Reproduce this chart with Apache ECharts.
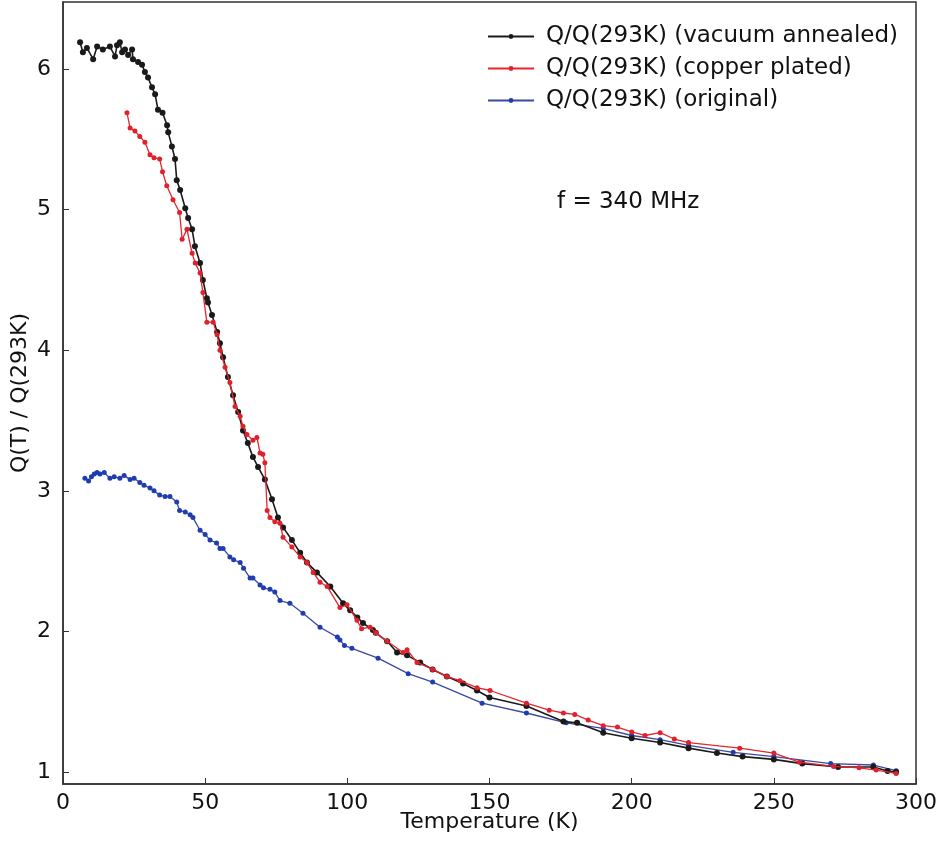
<!DOCTYPE html>
<html>
<head>
<meta charset="utf-8">
<script src="https://cdn.jsdelivr.net/npm/echarts@6/dist/echarts.min.js"></script>
<style>html,body{margin:0;padding:0;background:#fff}#c{width:937px;height:842px}</style>
</head>
<body>
<div id="c"></div>
<script>
const annealedName = 'Q/Q(293K) (vacuum annealed)';
const copperName = 'Q/Q(293K) (copper plated)';
const originalName = 'Q/Q(293K) (original)';
const xTicks = [0, 50, 100, 150, 200, 250, 300];
const yTicks = [1, 2, 3, 4, 5, 6];

const annealed = [[6,6.19],[7,6.12],[8.4,6.15],[10.6,6.07],[12,6.16],[14,6.14],[16.5,6.16],[18.3,6.09],[19,6.17],[20,6.19],[20.8,6.12],[21.8,6.14],[22.9,6.10],[24.3,6.14],[24.6,6.07],[26.4,6.05],[27.8,6.03],[28.8,5.98],[29.9,5.94],[31.3,5.87],[32.4,5.82],[33.4,5.71],[35,5.69],[36.6,5.60],[37,5.55],[38.3,5.45],[39.4,5.36],[40,5.21],[41.2,5.14],[43,5.01],[44,4.94],[45.4,4.86],[46.4,4.74],[48.2,4.62],[49.2,4.50],[50.6,4.37],[51,4.34],[52.4,4.25],[54.2,4.13],[55.2,4.05],[56.3,3.95],[58,3.81],[59.8,3.68],[61.6,3.56],[63.3,3.43],[65,3.34],[66.8,3.24],[68.6,3.17],[71,3.08],[73.5,2.94],[75.6,2.81],[77.4,2.74],[80.5,2.65],[83.4,2.56],[85.8,2.49],[89.3,2.42],[94,2.32],[98.5,2.20],[101,2.15],[103.5,2.10],[105.5,2.06],[109,2.01],[110,1.99],[114,1.93],[117.5,1.85],[121,1.83],[125.6,1.78],[130,1.73],[135,1.68],[140.7,1.63],[145.6,1.58],[150,1.53],[163,1.47],[176,1.36],[180.8,1.35],[190,1.28],[200,1.24],[210,1.21],[220,1.17],[230,1.135],[239,1.11],[250,1.09],[260,1.06],[272.6,1.036],[285,1.036],[290,1.007],[293,1.0]];

const copper = [[22.5,5.69],[23.6,5.58],[25.3,5.56],[27,5.52],[28.8,5.48],[30.6,5.39],[32,5.37],[34,5.36],[35,5.27],[36.5,5.17],[38.7,5.07],[41,4.98],[41.9,4.79],[43.6,4.86],[45.4,4.69],[46.5,4.62],[48.2,4.55],[49.2,4.41],[50.6,4.20],[52.8,4.20],[54.2,4.11],[55.2,4.0],[57,3.88],[58.7,3.77],[60.5,3.60],[62.3,3.53],[63.3,3.46],[64.7,3.40],[66.8,3.36],[68.2,3.38],[69.3,3.27],[70.3,3.26],[71,3.2],[71.8,2.86],[72.8,2.81],[74.5,2.78],[76.3,2.77],[77.4,2.67],[80.5,2.60],[83.4,2.53],[85.8,2.49],[88,2.42],[90.4,2.35],[92.9,2.32],[97.4,2.17],[99.9,2.19],[103.4,2.08],[105,2.02],[108,2.03],[110,1.99],[114,1.93],[119.6,1.85],[121,1.87],[124.5,1.78],[130,1.73],[135,1.68],[139.6,1.65],[145.6,1.60],[150.2,1.58],[163,1.49],[171,1.44],[176,1.42],[180,1.41],[184.7,1.37],[190,1.33],[195,1.32],[200,1.285],[204.7,1.26],[210,1.28],[215,1.235],[220,1.21],[238,1.17],[250,1.135],[259,1.07],[271,1.04],[280,1.03],[286,1.014],[293,0.99]];

const original = [[7.7,3.09],[9,3.07],[10,3.1],[11,3.12],[12,3.13],[13,3.12],[14.5,3.13],[16.5,3.09],[18,3.10],[20,3.09],[21.5,3.11],[23.6,3.08],[25,3.09],[27,3.06],[28.5,3.04],[30.6,3.02],[32,3.00],[34,2.97],[35.9,2.96],[37.6,2.96],[40,2.92],[41,2.86],[43,2.85],[44.7,2.83],[45.7,2.81],[48.2,2.72],[50,2.69],[51.7,2.65],[54,2.63],[55.2,2.59],[56.3,2.59],[58.7,2.53],[60,2.51],[62.3,2.49],[63.5,2.45],[65.8,2.38],[66.8,2.38],[69.3,2.33],[70.5,2.31],[72.8,2.30],[74.5,2.28],[76.3,2.22],[79.8,2.20],[84.4,2.13],[90.4,2.03],[96.5,1.96],[97.4,1.94],[99,1.90],[101.6,1.88],[110.8,1.81],[121.4,1.70],[130,1.64],[147.4,1.49],[163,1.42],[177,1.35],[190,1.31],[200,1.26],[210,1.23],[220,1.19],[235.7,1.14],[250,1.11],[270,1.06],[285,1.05],[293,1.01]];

const font = 'DejaVu Sans';
const chart = echarts.init(document.getElementById('c'));
chart.setOption({
  animation: false,
  backgroundColor: '#fff',
  textStyle: {fontFamily: font},
  grid: {left: 63, right: 21, top: 2, bottom: 58, outerBoundsMode: 'none', containLabel: false, show: true, borderColor: '#333', borderWidth: 1.5, backgroundColor: 'transparent'},
  legend: {
    orient: 'vertical', left: 482, top: 20, itemWidth: 46, itemHeight: 6, itemGap: 9,
    textStyle: {fontFamily: font, fontSize: 23, color: '#111', padding: [0, 0, 0, 7]},
    data: [annealedName, copperName, originalName]
  },
  graphic: [{type: 'text', left: 557, top: 191, style: {text: 'f = 340 MHz', font: '23px "DejaVu Sans"', fill: '#111'}}],
  xAxis: {
    type: 'value', min: 0, max: 300, interval: 50,
    name: 'Temperature (K)', nameLocation: 'middle', nameGap: 27, nameMoveOverlap: false,
    nameTextStyle: {fontFamily: font, fontSize: 22, color: '#111'},
    axisLine: {show: true, lineStyle: {color: '#333', width: 1.5}},
    axisTick: {show: true, inside: true, length: 6, lineStyle: {color: '#333'}},
    axisLabel: {fontFamily: font, fontSize: 22, color: '#111', margin: 8, customValues: xTicks},
    splitLine: {show: false}
  },
  yAxis: {
    type: 'value', min: 0.915, max: 6.477,
    name: 'Q(T) / Q(293K)', nameLocation: 'middle', nameGap: 32, nameMoveOverlap: false,
    nameTextStyle: {fontFamily: font, fontSize: 22, color: '#111'},
    axisLine: {show: true, lineStyle: {color: '#333', width: 1.5}},
    axisTick: {show: true, inside: true, length: 6, lineStyle: {color: '#333'}, customValues: yTicks},
    axisLabel: {fontFamily: font, fontSize: 22, color: '#111', margin: 12, customValues: yTicks},
    splitLine: {show: false}
  },
  series: [
    {name: annealedName, type: 'line', data: annealed, symbol: 'circle', symbolSize: 6, showAllSymbol: true,
     lineStyle: {color: '#1a1a1a', width: 1.6}, itemStyle: {color: '#1a1a1a'}, z: 3},
    {name: copperName, type: 'line', data: copper, symbol: 'circle', symbolSize: 5, showAllSymbol: true,
     lineStyle: {color: '#e8252e', width: 1.3}, itemStyle: {color: '#e0202a'}, z: 4},
    {name: originalName, type: 'line', data: original, symbol: 'circle', symbolSize: 5, showAllSymbol: true,
     lineStyle: {color: '#3a4a9e', width: 1.3}, itemStyle: {color: '#1f3db0'}, z: 2}
  ]
});
</script>
</body>
</html>
